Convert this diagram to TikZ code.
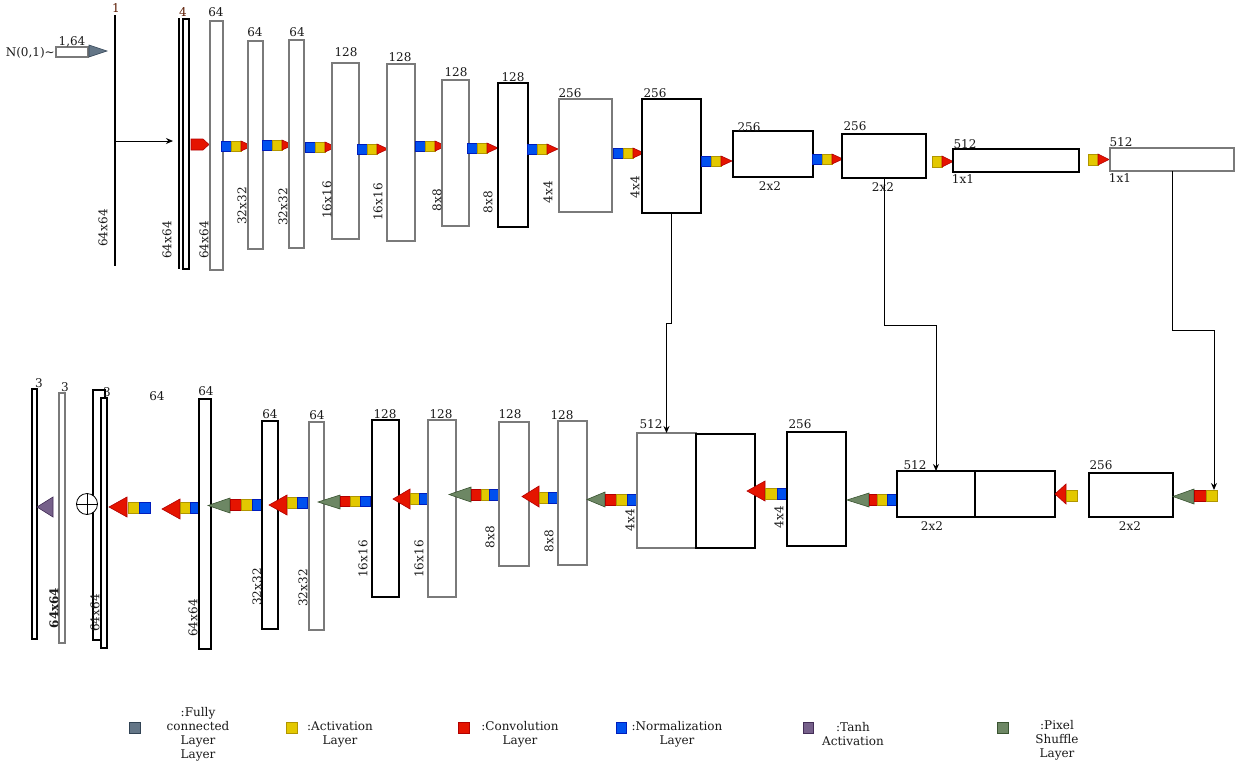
\documentclass[tikz,border=0pt]{standalone}
\usepackage{fontspec}
\setmainfont{DejaVu Serif}
\usetikzlibrary{arrows.meta}
\definecolor{cnvF}{HTML}{E51400}\definecolor{cnvD}{HTML}{B20000}
\definecolor{actF}{HTML}{E3C800}\definecolor{actD}{HTML}{B09500}
\definecolor{nrmF}{HTML}{0050EF}\definecolor{nrmD}{HTML}{001DBC}
\definecolor{pixF}{HTML}{6D8764}\definecolor{pixD}{HTML}{3A5431}
\definecolor{tnhF}{HTML}{76608A}\definecolor{tnhD}{HTML}{432D57}
\definecolor{fcF}{HTML}{647687}\definecolor{fcD}{HTML}{314354}
\definecolor{gb}{HTML}{7A7A7A}
\definecolor{txt}{HTML}{1A1A1A}
\definecolor{brn}{HTML}{5A1A00}
\newcommand\Rect[6]{\node[#6, anchor=north west, minimum width={(#4)-(#2)}, minimum height={(#5)-(#3)}] (#1) at (#2,#3) {};}
\newcommand\Sq[5]{\filldraw[#1] (#2,#3) rectangle (#4,#5);}
\newcommand\TriR[5]{\filldraw[#1] (#2,#3) -- (#4,{(#3+#5)/2}) -- (#2,#5) -- cycle;}
\newcommand\TriL[5]{\filldraw[#1] (#4,#3) -- (#2,{(#3+#5)/2}) -- (#4,#5) -- cycle;}
\newcommand\Fwd[2]{\Sq{nrm}{#1}{#2}{#1+10}{#2+10}\Sq{act}{#1+10}{#2}{#1+20}{#2+10}\TriR{cnv}{#1+20}{#2}{#1+31}{#2+10}}
\begin{document}
\begin{tikzpicture}[x=1pt,y=-1pt,
  lbl/.style={font=\fontsize{12}{14}\selectfont, inner sep=0pt, text=txt},
  rl/.style={lbl, rotate=90},
  bx/.style={draw=black, line width=1.2pt, inner sep=0pt, outer sep=0pt, fill=white},
  gbx/.style={bx, draw=gb},
  cnv/.style={fill=cnvF, draw=cnvD, line width=0.6pt},
  act/.style={fill=actF, draw=actD, line width=0.6pt},
  nrm/.style={fill=nrmF, draw=nrmD, line width=0.6pt},
  pix/.style={fill=pixF, draw=pixD, line width=0.6pt},
  tnh/.style={fill=tnhF, draw=tnhD, line width=0.6pt},
  fcs/.style={fill=fcF, draw=fcD, line width=0.6pt},
  conn/.style={line width=1pt, -{Stealth[length=7pt,width=6pt]}}]
\useasboundingbox (0,0) rectangle (1235,761);
\fill[white] (0,0) rectangle (1235,761);
% ---------- top row ----------
\draw[line width=2pt] (115,15) -- (115,266);
\coordinate (t1) at (115,141);
\coordinate (t2in) at (173,141);
\node[lbl, text=brn] at (116,8) {1};
\node[rl] at (103,228) {64x64};
\node[lbl, anchor=east] at (55,53) {N(0,1)\char"007E};
\Rect{fc}{56}{47}{88}{57}{gbx}
\node[lbl] at (72,42) {1,64};
\TriR{fcs}{89}{45}{107}{57}
\draw[conn] (t1) -- (t2in);
\draw[line width=1.4pt] (179,18) -- (179,269);
\Rect{t2}{183}{19}{189}{269}{bx}
\node[lbl, text=brn] at (183,12) {4};
\node[rl] at (167,240) {64x64};
\filldraw[cnv] (191,139) -- (203,139) -- (209,144.5) -- (203,150) -- (191,150) -- cycle;
\Rect{r1}{210}{21}{223}{270}{gbx}
\node[lbl] at (216,12) {64};
\node[rl] at (204,240) {64x64};
\Fwd{221}{141}
\Rect{r2}{248}{41}{263}{249}{gbx}
\node[lbl] at (255,32) {64};
\node[rl] at (242,206) {32x32};
\Fwd{262}{140}
\Rect{r3}{289}{40}{304}{248}{gbx}
\node[lbl] at (297,32) {64};
\node[rl] at (283,207) {32x32};
\Fwd{305}{142}
\Rect{r4}{332}{63}{359}{239}{gbx}
\node[lbl] at (346,52) {128};
\node[rl] at (327,200) {16x16};
\Fwd{357}{144}
\Rect{r5}{387}{64}{415}{241}{gbx}
\node[lbl] at (400,57) {128};
\node[rl] at (378,202) {16x16};
\Fwd{415}{141}
\Rect{r6}{442}{80}{469}{226}{gbx}
\node[lbl] at (456,72) {128};
\node[rl] at (437,200) {8x8};
\Fwd{467}{143}
\Rect{r7}{498}{83}{528}{227}{bx}
\node[lbl] at (513,77) {128};
\node[rl] at (488,202) {8x8};
\Fwd{527}{144}
\Rect{r8}{559}{99}{612}{212}{gbx}
\node[lbl] at (570,93) {256};
\node[rl] at (548,192) {4x4};
\Fwd{613}{148}
\Rect{r9}{642}{99}{701}{213}{bx}
\node[lbl] at (655,93) {256};
\node[rl] at (635,187) {4x4};
\Fwd{701}{156}
\Rect{r10}{733}{131}{813}{177}{bx}
\node[lbl] at (749,127) {256};
\node[lbl] at (770,186) {2x2};
\Fwd{812}{154}
\Rect{r11}{842}{134}{926}{178}{bx}
\node[lbl] at (855,126) {256};
\node[lbl] at (883,187) {2x2};
\Sq{act}{932}{156}{942}{167}\TriR{cnv}{942}{156}{953}{167}
\Rect{r12}{953}{149}{1079}{172}{bx}
\node[lbl] at (965,144) {512};
\node[lbl] at (963,179) {1x1};
\Sq{act}{1088}{154}{1098}{165}\TriR{cnv}{1098}{154}{1109}{165}
\Rect{r13}{1110}{148}{1234}{171}{gbx}
\node[lbl] at (1121,142) {512};
\node[lbl] at (1120,178) {1x1};
% ---------- bottom row ----------
\Rect{bA}{32}{389}{37}{639}{bx}
\node[lbl] at (39,383) {3};
\Rect{bB}{59}{393}{65}{643}{gbx}
\node[lbl] at (65,387) {3};
\node[rl, font=\fontsize{12}{14}\selectfont\bfseries] at (54,608) {64x64};
\TriL{tnh}{37}{497}{53}{517}
\Rect{bC}{93}{390}{105}{640}{bx}
\Rect{bD}{101}{398}{107}{648}{bx}
\node[lbl] at (107,392) {3};
\node[rl] at (95,613) {64x64};
\node[circle, draw, fill=white, minimum size=21pt, inner sep=0pt, line width=0.8pt] (add) at (87,504) {};
\draw[line width=0.8pt] (add.north) -- (add.south) (add.west) -- (add.east);
\TriL{cnv}{109}{497}{127}{517}\Sq{act}{128}{502}{139}{513}\Sq{nrm}{139}{502}{150}{513}
\node[lbl] at (157,396) {64};
\TriL{cnv}{162}{499}{180}{519}\Sq{act}{180}{502}{190}{513}\Sq{nrm}{190}{502}{199}{513}
\Rect{bE}{199}{399}{211}{649}{bx}
\node[lbl] at (206,391) {64};
\node[rl] at (193,618) {64x64};
\TriL{pix}{208}{498}{230}{513}\Sq{cnv}{230}{499}{241}{510}\Sq{act}{241}{499}{252}{510}\Sq{nrm}{252}{499}{263}{510}
\Rect{bF}{262}{421}{278}{629}{bx}
\node[lbl] at (270,414) {64};
\node[rl] at (257,587) {32x32};
\TriL{cnv}{269}{495}{287}{515}\Sq{act}{287}{497}{297}{508}\Sq{nrm}{297}{497}{307}{508}
\Rect{bG}{309}{422}{324}{630}{gbx}
\node[lbl] at (317,415) {64};
\node[rl] at (303,588) {32x32};
\TriL{pix}{318}{495}{340}{509}\Sq{cnv}{340}{496}{350}{506}\Sq{act}{350}{496}{360}{506}\Sq{nrm}{360}{496}{370}{506}
\Rect{bH}{372}{420}{399}{597}{bx}
\node[lbl] at (385,414) {128};
\node[rl] at (363,559) {16x16};
\TriL{cnv}{393}{489}{410}{509}\Sq{act}{410}{493}{419}{504}\Sq{nrm}{419}{493}{429}{504}
\Rect{bI}{428}{420}{456}{597}{gbx}
\node[lbl] at (441,414) {128};
\node[rl] at (419,559) {16x16};
\TriL{pix}{449}{487}{471}{502}\Sq{cnv}{471}{489}{481}{500}\Sq{act}{481}{489}{489}{500}\Sq{nrm}{489}{489}{499}{500}
\Rect{bJ}{499}{422}{529}{566}{gbx}
\node[lbl] at (510,414) {128};
\node[rl] at (490,537) {8x8};
\TriL{cnv}{522}{486}{539}{507}\Sq{act}{539}{492}{548}{503}\Sq{nrm}{548}{492}{559}{503}
\Rect{bK}{558}{421}{587}{565}{gbx}
\node[lbl] at (562,415) {128};
\node[rl] at (549,541) {8x8};
\TriL{pix}{587}{492}{605}{507}\Sq{cnv}{605}{494}{616}{505}\Sq{act}{616}{494}{627}{505}\Sq{nrm}{627}{494}{637}{505}
\Rect{bL}{637}{433}{696}{548}{gbx}
\Rect{bL2}{696}{434}{755}{548}{bx}
\node[lbl] at (651,424) {512};
\node[rl] at (630,520) {4x4};
\TriL{cnv}{747}{481}{765}{501}\Sq{act}{765}{488}{777}{499}\Sq{nrm}{777}{488}{787}{499}
\Rect{bM}{787}{432}{846}{546}{bx}
\node[lbl] at (800,424) {256};
\node[rl] at (779,517) {4x4};
\TriL{pix}{847}{493}{869}{507}\Sq{cnv}{869}{494}{877}{505}\Sq{act}{877}{494}{887}{505}\Sq{nrm}{887}{494}{897}{505}
\Rect{bN}{897}{471}{975}{517}{bx}
\Rect{bN2}{975}{471}{1055}{517}{bx}
\node[lbl] at (915,465) {512};
\node[lbl] at (932,526) {2x2};
\TriL{cnv}{1055}{484}{1066}{504}\Sq{act}{1066}{490}{1077}{501}
\Rect{bO}{1089}{473}{1173}{517}{bx}
\node[lbl] at (1101,465) {256};
\node[lbl] at (1130,526) {2x2};
\TriL{pix}{1173}{489}{1194}{504}\Sq{cnv}{1194}{490}{1206}{501}
\node[act, anchor=north west, minimum width=11pt, minimum height=11pt, inner sep=0pt, outer sep=0pt] (y13) at (1206,490) {};
% ---------- skip connectors ----------
\draw[conn] (r9.south) -- ++(0,110) -| (bL.north);
\draw[conn] (r11.south) -- ++(0,147) -| (bN.north);
\coordinate (s3end) at (1214,490);
\draw[conn] (r13.south) -- ++(0,159) -| (s3end);
% ---------- legend ----------
\Sq{fcs}{129}{722}{140}{733}
\node[lbl, align=center] at (198,734) {:Fully\\connected\\Layer\\Layer};
\Sq{act}{286}{722}{297}{733}
\node[lbl, align=center] at (340,734) {:Activation\\Layer};
\Sq{cnv}{458}{722}{469}{733}
\node[lbl, align=center] at (520,734) {:Convolution\\Layer};
\Sq{nrm}{616}{722}{626}{733}
\node[lbl, align=center] at (677,734) {:Normalization\\Layer};
\Sq{tnh}{803}{722}{813}{733}
\node[lbl, align=center] at (853,734) {:Tanh\\Activation};
\Sq{pix}{997}{722}{1008}{733}
\node[lbl, align=center] at (1057,740) {:Pixel\\Shuffle\\Layer};
\end{tikzpicture}
\end{document}
